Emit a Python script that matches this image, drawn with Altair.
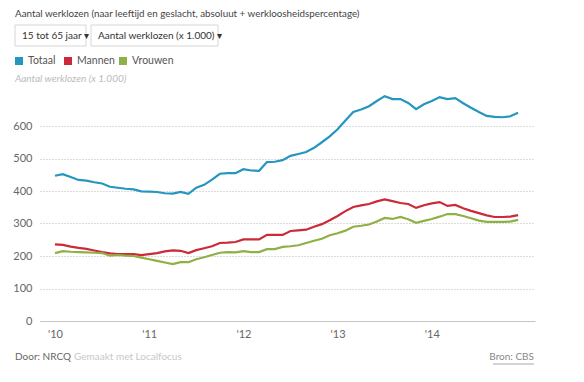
import altair as alt
import pandas as pd

# ---- data (x 1.000), monthly Jan 2010 .. Dec 2014 ----
totaal = [447, 452, 443, 434, 432, 427, 423, 413, 410, 407, 405, 399,
          398, 397, 393, 392, 397, 391, 410, 419, 435, 453, 455, 455,
          467, 463, 462, 489, 490, 495, 508, 514, 520, 533, 550, 568,
          590, 617, 643, 651, 661, 677, 692, 683, 683, 671, 652, 667,
          677, 689, 683, 686, 670, 656, 643, 631, 628, 627, 630, 641]
mannen = [236, 234, 229, 225, 222, 217, 212, 208, 206, 206, 206, 203,
          206, 209, 214, 217, 216, 209, 218, 224, 230, 240, 241, 243,
          251, 251, 251, 265, 265, 265, 277, 279, 281, 290, 298, 310,
          323, 338, 351, 356, 360, 368, 374, 369, 363, 360, 348, 356,
          362, 366, 354, 357, 347, 339, 332, 325, 320, 320, 321, 326]
vrouwen = [209, 215, 213, 212, 211, 210, 209, 201, 203, 201, 200, 195,
           190, 185, 180, 175, 181, 181, 190, 196, 203, 210, 212, 211,
           215, 212, 212, 221, 221, 228, 230, 233, 240, 247, 253, 264,
           270, 278, 290, 293, 297, 306, 317, 314, 320, 313, 302, 308,
           314, 321, 329, 329, 323, 316, 309, 305, 305, 305, 306, 311]
series_names = ["Totaal", "Mannen", "Vrouwen"]
series_colors = ["#2596be", "#cc2a3a", "#8fb045"]
year_labels = ["'10", "'11", "'12", "'13", "'14"]
y_ticks = [0, 100, 200, 300, 400, 500, 600]

title_text = "Aantal werklozen (naar leeftijd en geslacht, absoluut + werkloosheidspercentage)"
dropdowns = ["15 tot 65 jaar \u25be", "Aantal werklozen (x 1.000) \u25be"]
axis_title = "Aantal werklozen (x 1.000)"
footer_left = "Door: NRCQ"
footer_mid = "Gemaakt met Localfocus"
footer_right = "Bron: CBS"

FONT = "Lato"

rows = []
for name, vals in zip(series_names, [totaal, mannen, vrouwen]):
    for i, v in enumerate(vals):
        rows.append({"maand": i, "waarde": v, "serie": name})
df = pd.DataFrame(rows)

label_expr = "[" + ",".join('"%s"' % l for l in year_labels) + "][round(datum.value/12)]"

x_scale = alt.Scale(domain=[-1.91, 61.15], nice=False, zero=False)
y_scale = alt.Scale(domain=[0, 720], nice=False)

lines = alt.Chart(df).mark_line(strokeWidth=2.2).encode(
    x=alt.X("maand:Q", scale=x_scale,
            axis=alt.Axis(values=[0, 12, 24, 36, 48], labelExpr=label_expr, title=None,
                          grid=False, ticks=False, domain=True, domainColor="#c4c4c4",
                          labelColor="#666", labelFontSize=11, labelFont=FONT,
                          labelPadding=7)),
    y=alt.Y("waarde:Q", scale=y_scale,
            axis=alt.Axis(values=y_ticks, title=None, grid=True, gridDash=[1, 2],
                          gridColor="#b8b8b8", domain=False, ticks=False,
                          labelColor="#666", labelFontSize=11, labelFont=FONT,
                          labelPadding=8)),
    color=alt.Color("serie:N", scale=alt.Scale(domain=series_names, range=series_colors),
                    legend=None),
    detail="serie:N",
)

def txt(s, x, y, color="#444", size=10, align="left", style="normal", baseline="middle"):
    return alt.Chart(pd.DataFrame({"t": [s]})).mark_text(
        align=align, baseline=baseline, font=FONT, fontSize=size, color=color,
        fontStyle=style
    ).encode(text="t:N", x=alt.value(x), y=alt.value(y))

def box(x1, x2, y1, y2, fill, stroke=None):
    kw = dict(fill=fill)
    if stroke:
        kw.update(stroke=stroke, strokeWidth=1)
    return alt.Chart(pd.DataFrame({"a": [0]})).mark_rect(**kw).encode(
        x=alt.value(x1), x2=alt.value(x2), y=alt.value(y1), y2=alt.value(y2))

layers = [lines]
layers.append(txt(title_text, -25, -78.5, color="#444", size=9.8, baseline="top"))
layers.append(box(-25, 46, -62, -41, "white", "#d6d6d6"))
layers.append(box(51, 178, -62, -41, "white", "#d6d6d6"))
layers.append(txt(dropdowns[0], -18, -51, color="#333", size=10))
layers.append(txt(dropdowns[1], 58, -51, color="#333", size=10))
leg_x = [-25, 24, 79]
for nm, col, lx in zip(series_names, series_colors, leg_x):
    layers.append(box(lx, lx + 8, -30, -22, col))
    layers.append(txt(nm, lx + 13, -26, color="#555", size=10.5))
layers.append(txt(axis_title, -25, -8, color="#bbb", size=10, style="italic"))
layers.append(txt(footer_left, -25, 270, color="#666", size=10))
layers.append(txt(footer_mid, 34, 270, color="#c8c8c8", size=10))
layers.append(txt(footer_right, 494, 270, color="#888", size=10, align="right"))
layers.append(alt.Chart(pd.DataFrame({"a": [0]})).mark_rule(color="#aaa", strokeWidth=1).encode(
    x=alt.value(453), x2=alt.value(494), y=alt.value(277)))

chart = alt.layer(*layers).properties(
    width=495, height=234,
    autosize=alt.AutoSizeParams(type="none"),
    padding={"left": 32, "top": 79, "right": 25, "bottom": 50},
).configure_view(stroke=None)

chart.save("out.html", embed_options={"renderer": "svg", "actions": False})
